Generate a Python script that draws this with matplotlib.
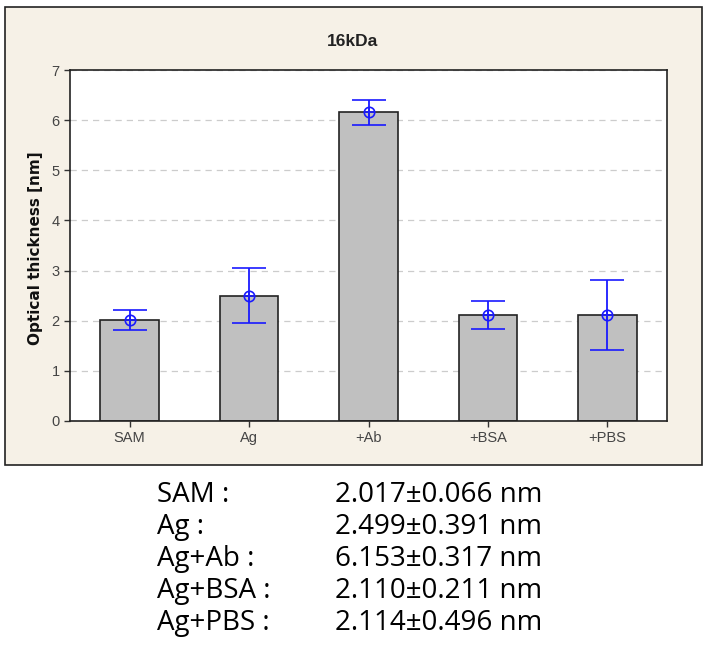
import numpy as np
import matplotlib.pyplot as plt
from matplotlib.patches import Rectangle

# data
categories = ["SAM", "Ag", "+Ab", "+BSA", "+PBS"]
means = [2.017, 2.499, 6.153, 2.110, 2.114]
errors = [0.20, 0.55, 0.245, 0.28, 0.69]   # bar lengths as drawn
row_names = ["SAM :", "Ag :", "Ag+Ab :", "Ag+BSA :", "Ag+PBS :"]
row_values = ["2.017\u00b10.066 nm", "2.499\u00b10.391 nm", "6.153\u00b10.317 nm",
              "2.110\u00b10.211 nm", "2.114\u00b10.496 nm"]

W, H = 706, 646
fig = plt.figure(figsize=(W / 100, H / 100), dpi=100)

# beige panel behind the chart
panel = Rectangle((5 / W, 1 - 465 / H), 697 / W, 458 / H, transform=fig.transFigure,
                  facecolor="#f6f1e7", edgecolor="#222222", linewidth=1.2, zorder=-10)
fig.patches.append(panel)

ax = fig.add_axes([70 / W, 1 - 421 / H, 597 / W, 351 / H])
ax.set_facecolor("white")
x = np.arange(len(categories))
blue = "#1a1aff"
ax.bar(x, means, width=0.49, color="#c0c0c0", edgecolor="#222222", linewidth=1.2, zorder=2)
ax.errorbar(x, means, yerr=errors, fmt="o", color=blue, mfc="none", mec=blue,
            ms=7.5, mew=1.2, elinewidth=1.3, capsize=12, capthick=1.3, zorder=3)
ax.plot(x, means, "+", color=blue, ms=7.5, mew=1.2, zorder=4)

ax.set_xlim(-0.5, 4.5)
ax.set_ylim(0, 7)
ax.set_yticks(range(8))
ax.set_xticks(x)
ax.set_xticklabels(categories)
for side in ax.spines.values():
    side.set_color("#222222")
    side.set_linewidth(1.2)
ax.tick_params(axis="both", direction="out", length=4, width=1, color="#333333",
               labelsize=10.5, labelcolor="#444444")
for lbl in ax.get_xticklabels() + ax.get_yticklabels():
    lbl.set_family("Liberation Sans")
ax.yaxis.grid(True, linestyle=(0, (5, 4)), color="#cccccc", linewidth=0.9, zorder=0)
ax.set_axisbelow(True)

fig.text(353 / W, 1 - 42 / H, "16kDa", ha="center", va="center", fontsize=12.5,
         fontweight="bold", family="Liberation Sans", color="#222222")
fig.text(36 / W, 1 - 248 / H, "Optical thickness [nm]", rotation=90, ha="center",
         va="center", fontsize=11, fontweight="bold", family="DejaVu Sans", color="#111111")

# summary table under the chart
tfont = ["Open Sans", "DejaVu Sans"]
for i in range(len(row_names)):
    yy = 1 - (495 + 32 * i) / H
    fig.text(157 / W, yy, row_names[i], ha="left", va="center", fontsize=20,
             family=tfont, color="black")
    fig.text(335 / W, yy, row_values[i], ha="left", va="center", fontsize=20,
             family=tfont, color="black")

fig.savefig("out.png", dpi=100)
